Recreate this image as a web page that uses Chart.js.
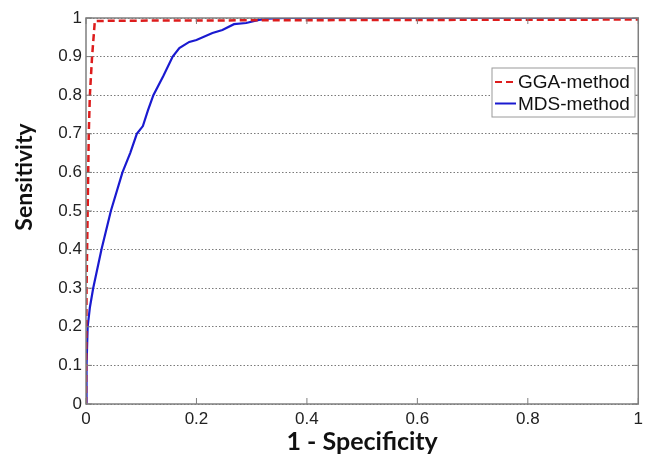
<!DOCTYPE html>
<html>
<head>
<meta charset="utf-8">
<script src="https://cdn.jsdelivr.net/npm/chart.js@4/dist/chart.umd.min.js"></script>
<style>
  html, body { margin: 0; padding: 0; background: #fff; }
  canvas { display: block; }
</style>
</head>
<body>
<canvas id="roc" width="648" height="457"></canvas>
<script>
// ROC curves
const ggaX = [0, 0.001, 0.003, 0.005, 0.007, 0.011, 0.016, 0.05, 0.3, 0.6, 1];
const ggaY = [0, 0.3, 0.5, 0.7, 0.8, 0.9, 0.992, 0.993, 0.994, 0.995, 0.996];
const mdsX = [0, 0.001, 0.003, 0.007, 0.013, 0.028, 0.045, 0.066, 0.08, 0.092, 0.103, 0.112, 0.122, 0.14, 0.157, 0.169, 0.187, 0.2, 0.229, 0.247, 0.268, 0.29, 0.313, 0.33, 0.36, 0.5, 1];
const mdsY = [0, 0.1, 0.2, 0.25, 0.3, 0.4, 0.5, 0.6, 0.65, 0.7, 0.72, 0.76, 0.8, 0.85, 0.9, 0.922, 0.938, 0.943, 0.961, 0.969, 0.984, 0.987, 0.995, 0.998, 1, 1, 1];
const seriesNames = ['GGA-method', 'MDS-method'];
const xTicks = [0, 0.2, 0.4, 0.6, 0.8, 1];
const yTicks = [0, 0.1, 0.2, 0.3, 0.4, 0.5, 0.6, 0.7, 0.8, 0.9, 1];
const yTitle = 'Sensitivity';

function pts(xs, ys){ return xs.map((x,i)=>({x, y: ys[i]})); }
function fmt(v){ return (v === 0 || v === 1) ? String(v) : v.toFixed(1); }

// matlab-like box with inward ticks, y title (sits above centre in the original) + legend
const boxPlugin = {
    id: 'box',
    afterDatasetsDraw(chart){
        const {ctx, chartArea: a, scales} = chart;
        ctx.save();
        ctx.strokeStyle = '#7f7f7f';
        ctx.lineWidth = 1.5;
        ctx.strokeRect(a.left, a.top, a.right - a.left, a.bottom - a.top);
        ctx.lineWidth = 1;
        ctx.beginPath();
        xTicks.forEach(v => {
            const px = scales.x.getPixelForValue(v);
            ctx.moveTo(px, a.bottom); ctx.lineTo(px, a.bottom - 6);
            ctx.moveTo(px, a.top); ctx.lineTo(px, a.top + 6);
        });
        yTicks.forEach(v => {
            const py = scales.y.getPixelForValue(v);
            ctx.moveTo(a.left, py); ctx.lineTo(a.left + 6, py);
            ctx.moveTo(a.right, py); ctx.lineTo(a.right - 6, py);
        });
        ctx.stroke();

        // y title
        ctx.save();
        ctx.translate(25, 177);
        ctx.rotate(-Math.PI / 2);
        ctx.font = 'bold 23px Lato, sans-serif';
        ctx.fillStyle = '#111';
        ctx.textAlign = 'center';
        ctx.textBaseline = 'middle';
        ctx.fillText(yTitle, 0, 0);
        ctx.restore();

        // legend
        const lx = 492, ly = 68, lw = 143, lh = 49;
        ctx.fillStyle = '#fff';
        ctx.fillRect(lx, ly, lw, lh);
        ctx.strokeStyle = '#9a9a9a';
        ctx.lineWidth = 1;
        ctx.strokeRect(lx, ly, lw, lh);
        ctx.font = '19px "Liberation Sans", Arial, sans-serif';
        ctx.textBaseline = 'middle';
        chart.data.datasets.forEach((ds, i) => {
            const cy = ly + 14 + i * 21.5;
            ctx.strokeStyle = ds.borderColor;
            ctx.lineWidth = 2;
            ctx.setLineDash(ds.borderDash || []);
            ctx.beginPath(); ctx.moveTo(lx + 3, cy); ctx.lineTo(lx + 24, cy); ctx.stroke();
            ctx.setLineDash([]);
            ctx.fillStyle = '#111';
            ctx.fillText(ds.label, lx + 26, cy + 1);
        });
        ctx.restore();
    }
};

new Chart(document.getElementById('roc'), {
    type: 'scatter',
    data: {
        datasets: [
            { label: seriesNames[0], data: pts(ggaX, ggaY), showLine: true, borderColor: '#dd1c1c', borderWidth: 2.5, borderDash: [7, 4], pointRadius: 0, tension: 0 },
            { label: seriesNames[1], data: pts(mdsX, mdsY), showLine: true, borderColor: '#1a1ad0', borderWidth: 2.2, pointRadius: 0, tension: 0 }
        ]
    },
    options: {
        responsive: false,
        animation: false,
        layout: { padding: { top: 18, right: 7, left: 0, bottom: 0 } },
        plugins: { legend: { display: false }, tooltip: { enabled: false } },
        scales: {
            x: {
                type: 'linear', min: 0, max: 1,
                afterFit(s){ s.height = 53; },
                afterBuildTicks(s){ s.ticks = xTicks.map(v => ({value: v})); },
                ticks: { callback: fmt, padding: 5, color: '#222', font: { family: '"Liberation Sans", Arial, sans-serif', size: 17 }, maxRotation: 0 },
                grid: { display: false, drawTicks: false },
                border: { display: false },
                title: { display: true, text: '1 - Specificity', color: '#111', padding: { top: 2, bottom: 0 }, font: { family: 'Lato, sans-serif', size: 25, weight: 'bold' } }
            },
            y: {
                type: 'linear', min: 0, max: 1,
                afterFit(s){ s.width = 86; },
                afterBuildTicks(s){ s.ticks = yTicks.map(v => ({value: v})); },
                ticks: { callback: fmt, padding: 4, color: '#222', font: { family: '"Liberation Sans", Arial, sans-serif', size: 17 } },
                grid: { color: '#7a7a7a', lineWidth: 1, drawTicks: false },
                border: { display: false, dash: [1.5, 2] },
                title: { display: false }
            }
        }
    },
    plugins: [boxPlugin]
});
</script>
</body>
</html>
